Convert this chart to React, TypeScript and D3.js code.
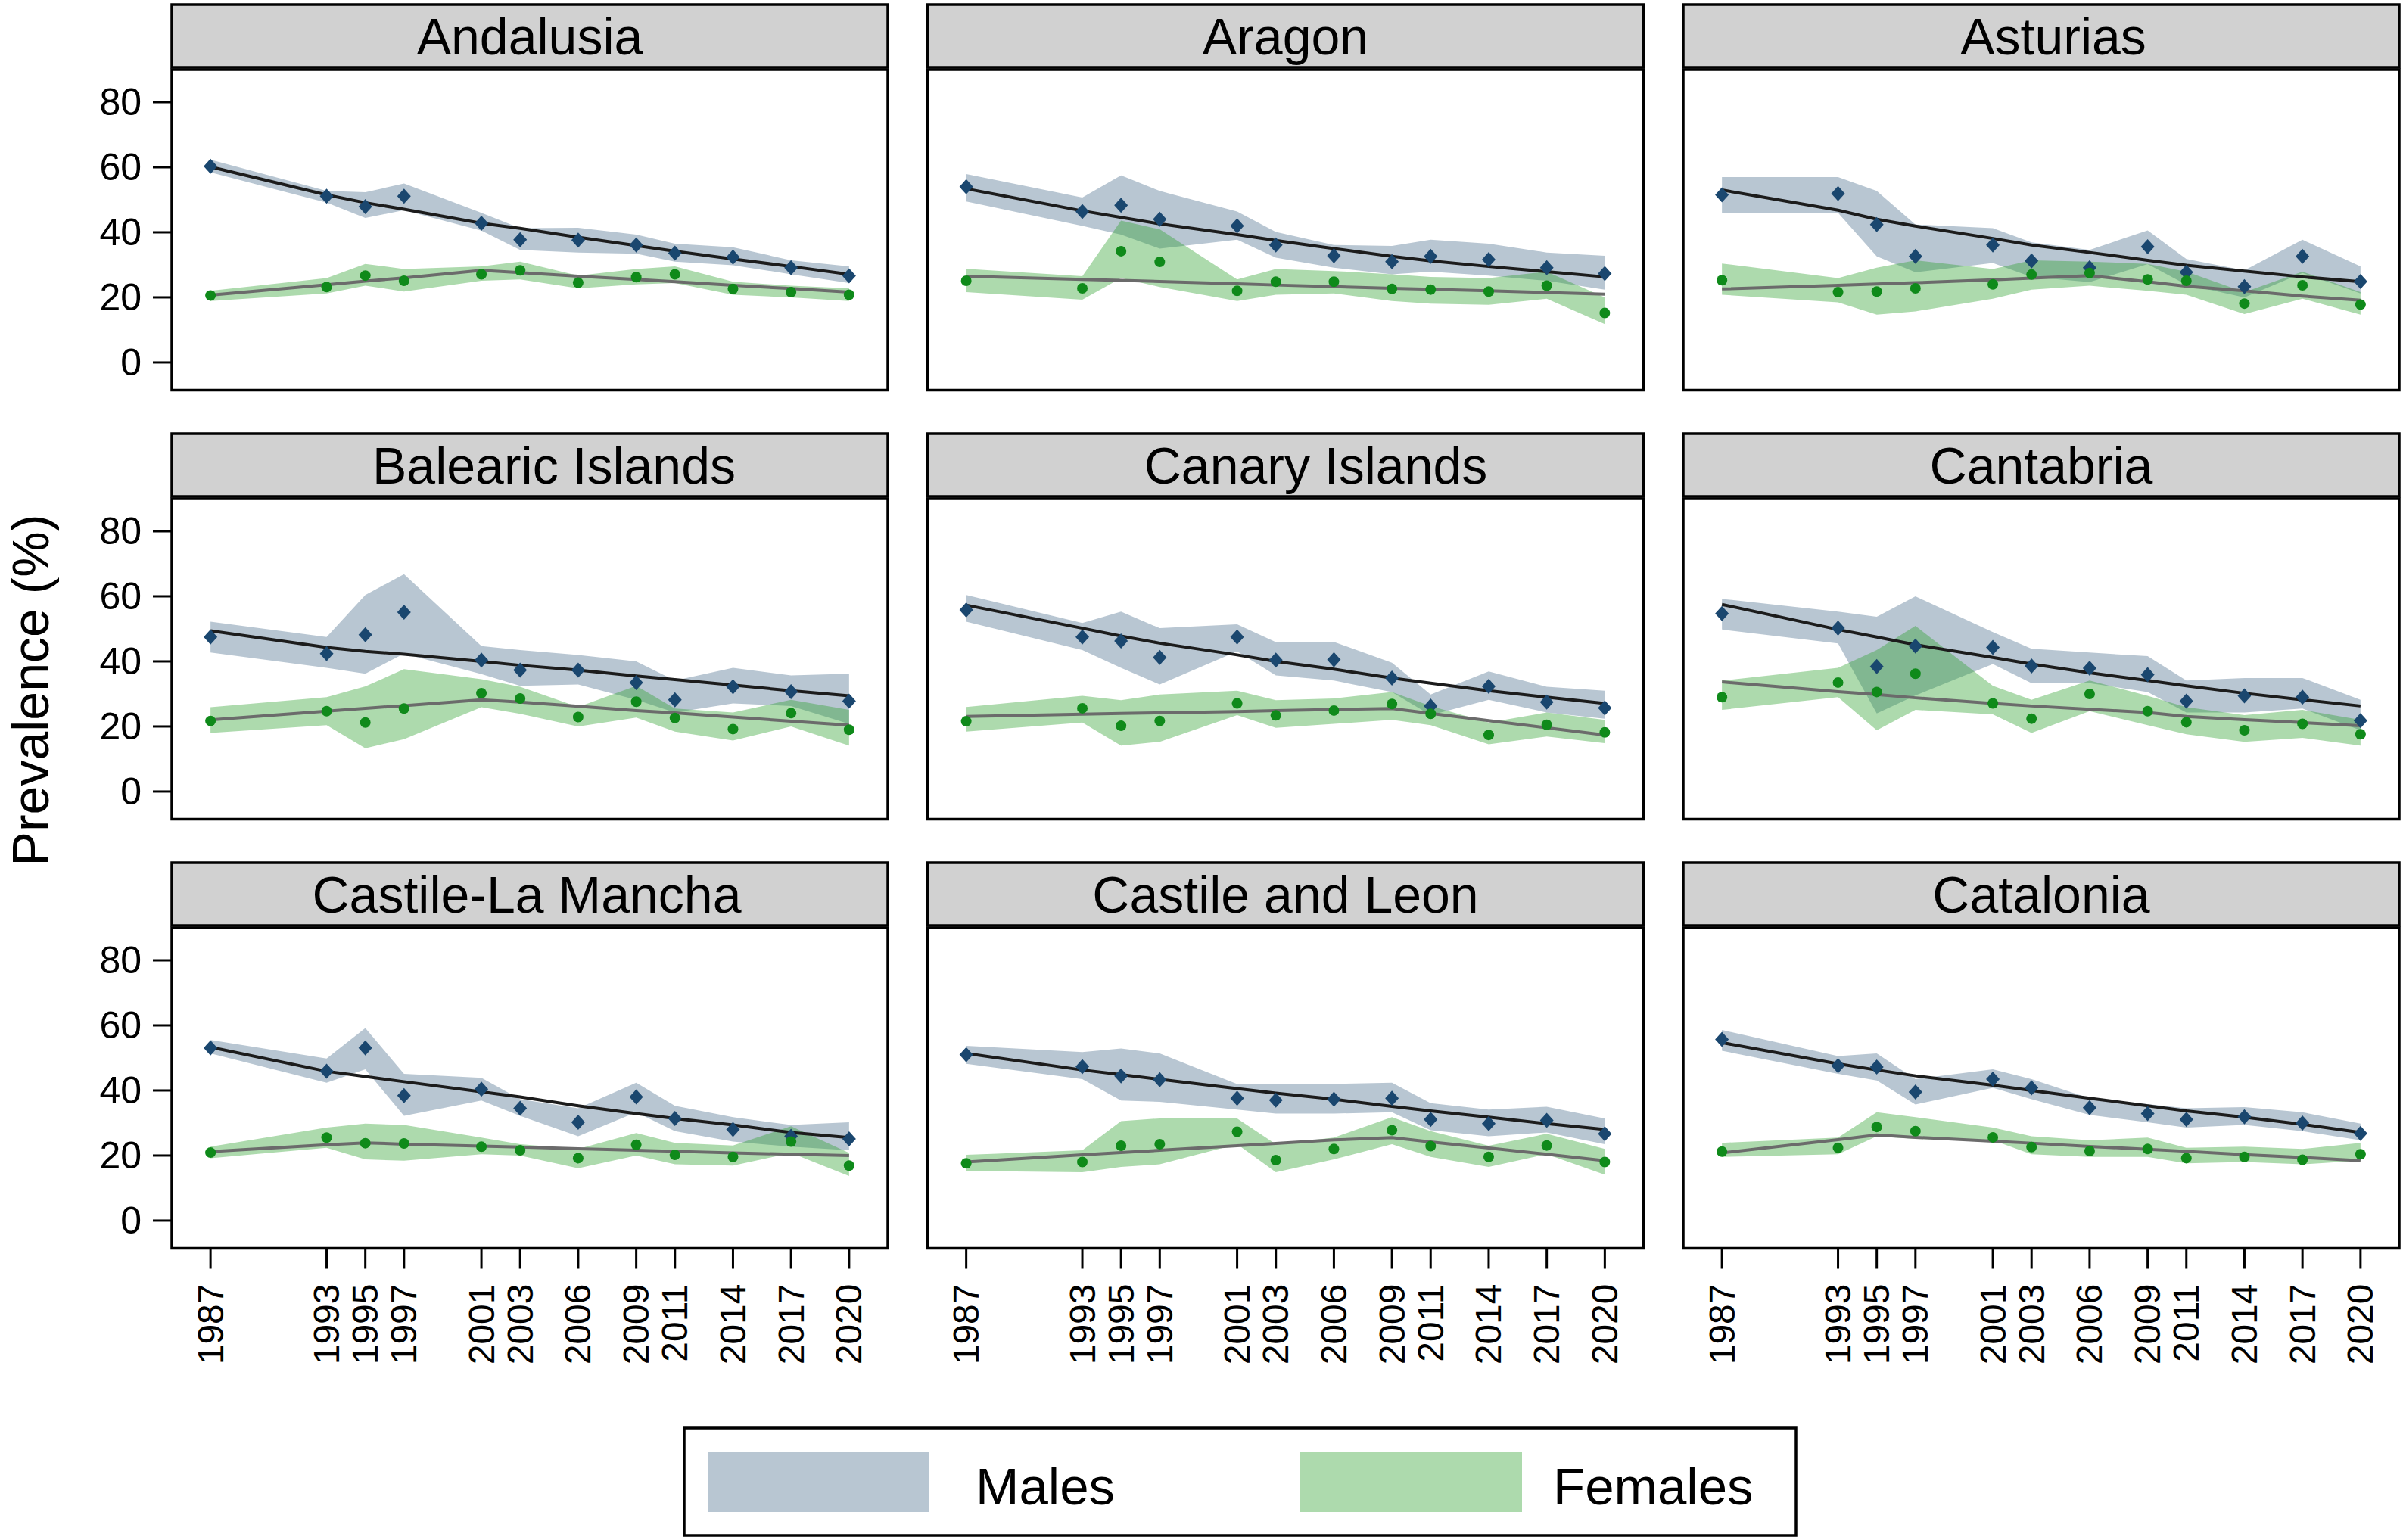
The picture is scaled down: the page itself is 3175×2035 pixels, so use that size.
import React from 'react';
import * as d3 from 'd3';

const regions = [
  'Andalusia', 'Aragon', 'Asturias',
  'Balearic Islands', 'Canary Islands', 'Cantabria',
  'Castile-La Mancha', 'Castile and Leon', 'Catalonia',
];
const years = [1987, 1993, 1995, 1997, 2001, 2003, 2006, 2009, 2011, 2014, 2017, 2020];
const yTicks = [0, 20, 40, 60, 80];

const maleVal = [
  [60.3, 51.1, 47.9, 51.1, 42.8, 37.7, 37.6, 36.1, 33.6, 32.4, 29.1, 26.6],
  [54.0, 46.4, 48.3, 44.0, 42.0, 36.1, 32.8, 31.0, 32.6, 31.6, 29.1, 27.3],
  [51.5, 51.9, 42.4, 32.6, 36.1, 31.2, 29.1, 35.6, 27.7, 23.3, 32.6, 24.9],
  [47.5, 42.4, 48.2, 55.1, 40.4, 37.3, 37.3, 33.5, 28.2, 32.2, 30.7, 27.8],
  [55.8, 47.5, 46.3, 41.2, 47.5, 40.4, 40.5, 34.9, 26.3, 32.3, 27.5, 25.7],
  [54.7, 50.2, 38.4, 44.7, 44.3, 38.6, 37.9, 35.9, 27.8, 29.4, 29.0, 21.8],
  [53.1, 45.9, 53.1, 38.4, 40.4, 34.5, 30.2, 38.0, 31.4, 28.0, 25.9, 25.1],
  [51.0, 47.3, 44.5, 43.3, 37.6, 37.0, 37.3, 37.6, 31.1, 29.8, 30.8, 26.7],
  [55.7, 47.6, 47.2, 39.5, 43.5, 40.8, 34.7, 32.9, 31.1, 31.9, 30.0, 26.8],
];
const maleHi = [
  [62.3, 52.7, 52.3, 55.0, 46.0, 41.3, 41.4, 39.3, 36.5, 35.4, 31.4, 29.5],
  [57.9, 50.7, 57.5, 52.7, 46.4, 40.1, 36.1, 35.8, 37.7, 36.5, 33.8, 32.8],
  [57.0, 57.0, 52.7, 42.4, 41.3, 36.9, 34.6, 40.6, 31.8, 28.3, 37.7, 29.5],
  [52.2, 47.5, 60.4, 66.8, 44.7, 43.5, 42.0, 40.0, 34.1, 38.0, 35.7, 36.2],
  [60.4, 51.8, 55.3, 50.2, 51.4, 45.9, 46.0, 39.6, 29.8, 36.9, 32.2, 31.0],
  [59.2, 55.3, 53.7, 60.0, 49.0, 43.9, 42.7, 41.6, 34.1, 34.9, 34.9, 28.2],
  [55.5, 49.8, 59.2, 45.1, 43.9, 37.3, 34.5, 42.4, 35.3, 31.8, 29.4, 30.2],
  [53.7, 51.8, 52.9, 51.4, 42.0, 42.0, 42.0, 42.4, 36.1, 34.1, 35.0, 31.4],
  [58.6, 50.6, 51.4, 43.5, 46.5, 43.5, 37.6, 35.8, 34.5, 34.9, 33.3, 29.8],
];
const maleLo = [
  [58.4, 49.1, 44.4, 46.8, 40.5, 34.6, 33.8, 33.4, 31.0, 29.9, 27.1, 24.4],
  [49.5, 42.0, 39.3, 35.0, 37.7, 32.2, 29.1, 27.1, 27.9, 26.7, 25.1, 22.4],
  [46.0, 46.0, 32.6, 27.7, 30.6, 26.3, 24.7, 30.2, 23.9, 20.0, 27.5, 21.2],
  [42.7, 38.0, 36.2, 42.4, 36.1, 32.5, 32.9, 28.2, 24.3, 27.1, 26.3, 20.8],
  [52.2, 43.5, 38.0, 32.9, 43.1, 35.7, 34.1, 30.6, 23.5, 28.2, 24.3, 22.4],
  [49.8, 45.5, 24.0, 29.5, 39.2, 33.3, 33.3, 30.6, 24.3, 24.3, 25.5, 18.8],
  [51.4, 42.4, 46.5, 32.2, 36.9, 32.2, 25.9, 33.3, 27.5, 24.3, 22.7, 21.6],
  [48.2, 43.5, 36.9, 36.5, 34.1, 32.9, 32.9, 33.3, 27.8, 25.9, 27.1, 23.5],
  [52.2, 45.1, 43.1, 35.7, 40.8, 37.3, 32.5, 30.2, 28.6, 29.4, 27.5, 24.7],
];
const maleFit = [
  [60.1, 51.5, 49.1, 47.1, 42.8, 41.2, 38.5, 35.9, 34.2, 31.8, 29.5, 27.1],
  [53.4, 46.6, 44.6, 42.6, 39.3, 37.5, 35.0, 32.6, 31.2, 29.5, 27.9, 26.3],
  [53.0, 46.8, 44.0, 41.9, 38.1, 36.1, 33.8, 31.4, 29.9, 28.1, 26.3, 24.8],
  [49.4, 44.3, 43.1, 42.2, 40.0, 38.8, 37.3, 35.5, 34.4, 32.7, 31.0, 29.4],
  [57.3, 50.2, 47.8, 45.6, 42.0, 40.0, 37.6, 34.9, 33.3, 31.0, 29.0, 27.1],
  [57.5, 49.8, 47.5, 45.1, 41.2, 39.2, 36.5, 34.1, 32.5, 30.2, 28.2, 26.3],
  [53.3, 45.9, 44.3, 42.7, 39.6, 38.0, 35.3, 32.9, 31.4, 29.4, 27.1, 25.5],
  [51.4, 46.3, 44.9, 43.4, 40.6, 39.2, 37.3, 35.1, 33.7, 31.8, 29.8, 28.0],
  [54.7, 48.2, 46.3, 44.5, 41.6, 40.0, 37.6, 35.3, 33.7, 31.8, 29.6, 27.1],
];

const femVal = [
  [20.6, 23.2, 26.7, 25.1, 27.1, 28.3, 24.5, 26.2, 27.1, 22.6, 21.6, 20.8],
  [25.1, 22.8, 34.2, 30.9, 22.0, 24.8, 24.8, 22.6, 22.4, 21.8, 23.6, 15.2],
  [25.3, 21.6, 21.8, 22.8, 24.0, 27.0, 27.5, 25.5, 25.1, 18.1, 23.7, 17.8],
  [21.7, 24.7, 21.2, 25.5, 30.2, 28.6, 22.9, 27.6, 22.6, 19.2, 24.1, 19.0],
  [21.6, 25.6, 20.2, 21.7, 27.1, 23.4, 24.9, 26.9, 23.9, 17.4, 20.5, 18.2],
  [29.0, 33.5, 30.6, 36.2, 27.1, 22.4, 30.0, 24.7, 21.3, 18.8, 20.8, 17.6],
  [20.9, 25.5, 23.8, 23.7, 22.7, 21.6, 19.2, 23.3, 20.2, 19.6, 24.3, 16.9],
  [17.6, 18.0, 23.0, 23.5, 27.3, 18.6, 22.0, 27.8, 22.9, 19.6, 23.1, 18.0],
  [21.2, 22.4, 28.8, 27.5, 25.6, 22.6, 21.4, 22.0, 19.2, 19.6, 18.7, 20.4],
];
const femHi = [
  [22.0, 25.9, 30.3, 28.7, 29.5, 31.0, 26.7, 28.7, 29.5, 24.8, 23.6, 22.8],
  [28.8, 26.5, 43.6, 40.9, 25.5, 28.7, 28.1, 27.1, 26.3, 25.9, 27.9, 20.0],
  [30.4, 25.9, 29.1, 31.4, 28.7, 31.4, 31.0, 30.3, 27.9, 21.6, 27.9, 21.6],
  [25.9, 29.0, 32.3, 37.6, 34.5, 32.2, 26.0, 32.5, 25.5, 24.3, 28.2, 25.1],
  [26.0, 29.4, 28.1, 29.8, 31.0, 28.1, 28.6, 30.6, 26.3, 21.2, 24.3, 22.0],
  [34.1, 38.0, 43.5, 50.9, 32.5, 28.2, 34.1, 29.4, 25.9, 23.5, 25.1, 22.0],
  [22.7, 28.6, 29.8, 29.4, 25.5, 23.5, 22.0, 26.9, 23.9, 23.1, 29.0, 20.8],
  [20.2, 21.6, 30.6, 31.4, 31.4, 23.5, 25.5, 31.8, 27.5, 23.0, 26.7, 22.0],
  [23.9, 25.5, 33.3, 31.8, 28.6, 25.9, 24.7, 25.5, 22.4, 22.7, 22.0, 23.9],
];
const femLo = [
  [18.9, 21.2, 23.6, 21.8, 25.1, 25.5, 22.8, 24.0, 24.4, 20.8, 20.0, 18.9],
  [21.6, 19.3, 25.9, 23.2, 18.9, 20.8, 21.2, 18.9, 18.1, 17.7, 19.6, 11.8],
  [20.8, 18.5, 14.7, 15.7, 19.6, 22.4, 23.6, 22.0, 20.8, 14.9, 19.6, 14.7],
  [18.0, 20.4, 13.3, 16.1, 25.9, 23.9, 20.0, 22.7, 18.4, 15.7, 20.0, 14.1],
  [18.4, 21.2, 14.1, 15.3, 23.5, 19.6, 20.8, 22.0, 20.4, 14.5, 16.9, 14.9],
  [25.1, 29.0, 18.8, 25.1, 23.7, 18.0, 24.7, 20.4, 17.6, 15.3, 16.5, 14.1],
  [19.2, 22.4, 18.8, 18.4, 20.4, 20.0, 16.1, 20.0, 17.3, 16.9, 20.8, 13.7],
  [15.3, 14.9, 16.5, 17.3, 23.5, 14.9, 18.8, 23.5, 19.6, 16.5, 20.4, 14.1],
  [19.6, 20.4, 25.9, 25.1, 24.7, 20.4, 19.6, 19.6, 17.6, 18.0, 17.3, 18.4],
];
const femFit = [
  [20.7, 23.9, 25.0, 26.0, 28.3, 27.6, 26.5, 25.5, 24.8, 23.7, 22.7, 21.6],
  [26.5, 25.5, 25.2, 24.9, 24.2, 23.8, 23.3, 22.8, 22.5, 22.0, 21.5, 21.0],
  [22.6, 23.7, 24.1, 24.5, 25.4, 25.9, 26.7, 24.8, 23.4, 22.0, 20.4, 19.1],
  [22.0, 24.7, 25.6, 26.4, 28.2, 27.5, 26.2, 24.9, 24.2, 22.9, 21.6, 20.4],
  [23.1, 23.8, 24.0, 24.2, 24.6, 24.9, 25.2, 25.5, 24.0, 21.8, 19.6, 17.4],
  [33.7, 30.7, 29.8, 28.8, 27.1, 26.3, 25.3, 24.3, 23.1, 22.1, 21.2, 20.2],
  [21.2, 23.3, 23.9, 23.5, 22.9, 22.6, 22.1, 21.6, 21.3, 20.8, 20.4, 20.0],
  [18.0, 20.2, 20.9, 21.6, 23.0, 23.7, 24.8, 25.5, 24.2, 22.3, 20.4, 18.4],
  [20.8, 24.9, 26.3, 25.6, 24.4, 23.8, 22.8, 21.9, 21.3, 20.3, 19.4, 18.4],
];

const legendItems = ['Males', 'Females'];

const FONT = '"Liberation Sans", Arial, Helvetica, sans-serif';
const MALE_BAND = 'rgb(26,71,111)';
const FEM_BAND = 'rgb(44,160,44)';
const MALE_OP = 0.31;
const FEM_OP = 0.39;
const MALE_MARK = '#1a476f';
const FEM_MARK = '#0f8a1a';

const W = 3175;
const H = 2035;
const colLeft = 227;
const colStep = 998.5;
const panelW = 946;
const rowZero = 479;
const rowStep = 567;
const plotTopOff = 387;
const plotBotOff = 36.5;
const plotH = plotTopOff + plotBotOff;
// small horizontal offsets of strip titles, as placed in the reference
const titleDx = [0, 0, 16, 32, 40, 0, -4, 0, 0];
const legendSwatchX = [935, 1718];
const legendTextX = [1289, 2052];

export default function App() {
  const x = d3.scaleLinear().domain([1985, 2022]).range([0, panelW]);
  const y = d3.scaleLinear().domain([-8.5, 90]).range([plotH, 0]);

  const area = (lo: number[], hi: number[]) =>
    d3
      .area<number>()
      .x((_, i) => x(years[i]))
      .y0((_, i) => y(lo[i]))
      .y1((_, i) => y(hi[i]))(years) || '';
  const line = (v: number[]) =>
    d3
      .line<number>()
      .x((_, i) => x(years[i]))
      .y((_, i) => y(v[i]))(years) || '';

  const diamond = 'M0,-10L9,0L0,10L-9,0Z';

  return (
    <svg
      width={W}
      height={H}
      style={{ position: 'absolute', left: 0, top: 0, background: '#fff' }}
      fontFamily={FONT}
    >
      <rect x={0} y={0} width={W} height={H} fill="#fff" />
      {regions.map((name, r) => {
        const col = r % 3;
        const row = Math.floor(r / 3);
        const left = colLeft + col * colStep;
        const top = rowZero + row * rowStep - plotTopOff;
        return (
          <g key={name} transform={`translate(${left},${top})`}>
            <rect x={0} y={-86} width={panelW} height={83} fill="#d1d1d1" stroke="#000" strokeWidth={3.5} />
            <text x={panelW / 2 + titleDx[r]} y={-44.5 + 24} textAnchor="middle" fontSize={68} fill="#000">
              {name}
            </text>
            <rect x={0} y={0} width={panelW} height={plotH} fill="#fff" />
            <path d={area(maleLo[r], maleHi[r])} fill={MALE_BAND} fillOpacity={MALE_OP} />
            <path d={area(femLo[r], femHi[r])} fill={FEM_BAND} fillOpacity={FEM_OP} />
            <path d={line(maleFit[r])} fill="none" stroke="#1c1c1c" strokeWidth={4} />
            <path d={line(femFit[r])} fill="none" stroke="#6b6b6b" strokeWidth={4} />
            {years.map((yr, i) => (
              <path key={'m' + yr} d={diamond} transform={`translate(${x(yr)},${y(maleVal[r][i])})`} fill={MALE_MARK} />
            ))}
            {years.map((yr, i) => (
              <circle key={'f' + yr} cx={x(yr)} cy={y(femVal[r][i])} r={7} fill={FEM_MARK} />
            ))}
            <rect x={0} y={0} width={panelW} height={plotH} fill="none" stroke="#000" strokeWidth={3.5} />
            {col === 0 &&
              yTicks.map((t) => (
                <g key={'yt' + t}>
                  <line x1={-25} x2={0} y1={y(t)} y2={y(t)} stroke="#000" strokeWidth={3} />
                  <text x={-40} y={y(t)} textAnchor="end" dominantBaseline="central" fontSize={50} fill="#000">
                    {t}
                  </text>
                </g>
              ))}
            {row === 2 &&
              years.map((yr) => (
                <g key={'xt' + yr}>
                  <line x1={x(yr)} x2={x(yr)} y1={plotH} y2={plotH + 27} stroke="#000" strokeWidth={3} />
                  <text
                    transform={`translate(${x(yr)},${plotH + 47}) rotate(-90)`}
                    textAnchor="end"
                    dominantBaseline="central"
                    fontSize={48}
                    fill="#000"
                  >
                    {yr}
                  </text>
                </g>
              ))}
          </g>
        );
      })}
      <text
        transform="translate(40,912) rotate(-90)"
        textAnchor="middle"
        dominantBaseline="central"
        fontSize={68}
        fill="#000"
      >
        Prevalence (%)
      </text>
      <g>
        <rect x={904} y={1887} width={1469} height={142} fill="#fff" stroke="#000" strokeWidth={3.5} />
        {legendItems.map((lab, i) => (
          <g key={lab}>
            <rect
              x={legendSwatchX[i]}
              y={1919}
              width={293}
              height={79}
              fill={i === 0 ? MALE_BAND : FEM_BAND}
              fillOpacity={i === 0 ? MALE_OP : FEM_OP}
            />
            <text x={legendTextX[i]} y={1988} fontSize={69} fill="#000">
              {lab}
            </text>
          </g>
        ))}
      </g>
    </svg>
  );
}
